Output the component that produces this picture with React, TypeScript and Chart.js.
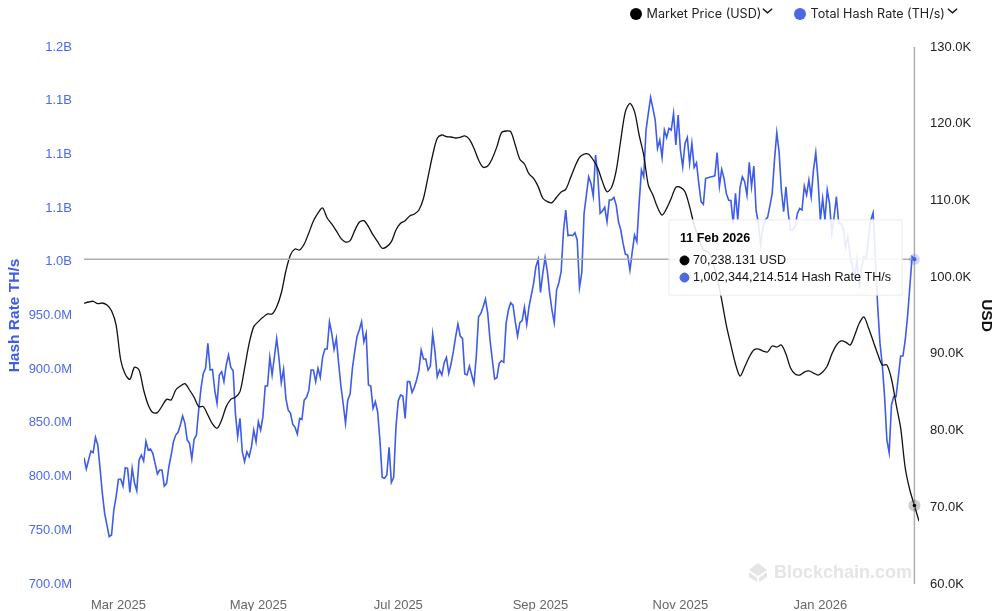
import React, { useEffect, useRef } from "react";
import { Chart, Tooltip, registerables } from "chart.js";

Chart.register(...registerables);

// days counted from 14 Feb 2025
const xTickDays = [15, 76, 137, 199, 260, 321];
const xTickLabels = ["Mar 2025", "May 2025", "Jul 2025", "Sep 2025", "Nov 2025", "Jan 2026"];
const hoverDay = 362;
const hoverDate = "11 Feb 2026";

// Total hash rate in millions of TH/s, one value per day
const hashRate = [
  817.6, 807.1, 815.4, 823.8, 822.3, 836.5, 829.4, 807.7, 784.4, 765.8,
  754.9, 744.1, 745.6, 768.9, 781.3, 797.4, 797.7, 791.2, 808.3, 807.7,
  785.3, 807.7, 794.3, 786.9, 815.4, 820.1, 814.5, 832.8, 824.7, 825.7,
  821.6, 812.3, 802.4, 806.1, 806.1, 791.2, 793.7, 809.2, 820.1, 832.5,
  838.7, 841.2, 848, 856.4, 849.6, 834, 831, 816.4, 834.7, 838.7,
  862, 882.2, 896.1, 900.8, 924, 899.2, 899.8, 880.6, 868.2, 894.6,
  897.7, 888.4, 903.9, 913.2, 901.7, 898.6, 858.9, 837.2, 854.2, 823.2,
  813.9, 823.2, 818.5, 827.9, 843.4, 832.5, 851.1, 843.4, 855.8, 884.3,
  884.3, 911, 894.6, 911.6, 928.7, 910.1, 887.4, 899.8, 872.8, 862,
  858.9, 848.9, 845.8, 839.6, 854.2, 853.3, 871.3, 873.8, 880, 899.2,
  899.2, 888.4, 900.8, 892.4, 911, 918.8, 918.8, 944.2, 933.4, 918.5,
  928.7, 905.4, 884.3, 867.6, 849.6, 871.3, 876.9, 900.8, 916.3, 930.2,
  936.5, 944.2, 925.6, 933.4, 885.3, 884.3, 863.5, 869.7, 860.4, 834,
  799.3, 798.4, 801.5, 827.2, 794.6, 799.3, 846.5, 870.7, 875.9, 875,
  854.2, 888.4, 888.4, 878.4, 883.1, 889.9, 899.2, 917.8, 909.5, 909.5,
  899.2, 902.9, 932.7, 916.3, 893, 899.2, 894.6, 906, 911, 896.1,
  904.8, 916.3, 930.2, 942, 930.9, 928.7, 895.5, 894.6, 902.9, 894.6,
  886.8, 911.6, 948.9, 952, 958.2, 965.3, 952, 927.2, 908.6, 890.9,
  892.1, 905.4, 907.9, 906.4, 942.7, 955.1, 961.9, 959.7, 944.2, 930.9,
  943.3, 945.2, 957.6, 941.7, 958.2, 969, 979.9, 995.4, 1002.3, 971.5,
  989.2, 1003.8, 990.8, 970.6, 955.1, 943.3, 973.7, 980.5, 990.8, 1028,
  1048.2, 1024.3, 1024.9, 1024.3, 1027.1, 1020.3, 976.2, 989.8, 1045.1, 1062.1,
  1079.2, 1073, 1061.2, 1099.4, 1079.2, 1045.1, 1047.3, 1050.7, 1037.3, 1057.5,
  1057.5, 1060, 1052.8, 1037.3, 1029.6, 1017.1, 1007.2, 1006.3, 992.3, 1009.4,
  1024.9, 1018.7, 1054.4, 1085.4, 1079.2, 1122.7, 1138.2, 1153.1, 1142.8, 1132,
  1105.6, 1113.3, 1097.2, 1122.7, 1115.8, 1124.2, 1122.7, 1138.2, 1108.7, 1136.6,
  1104, 1088.5, 1110.2, 1115.8, 1091.6, 1110.2, 1087.9, 1092.2, 1073, 1056,
  1053.5, 1077.7, 1078.3, 1078.9, 1079.5, 1080.1, 1101.6, 1070.5, 1086, 1077.7,
  1063.7, 1057.5, 1056.9, 1035.8, 1063.7, 1038.9, 1069.3, 1079.2, 1074.6, 1062.1,
  1092.6, 1069.9, 1089.1, 1047.6, 1035.8, 1015.6, 1032.7, 1038.9, 1041.4, 1052,
  1063.7, 1094.7, 1120.2, 1102.5, 1066.8, 1046.6, 1069.9, 1045.1, 1029.6, 1029.6,
  1032.7, 1045.1, 1049.7, 1048.2, 1070.5, 1062.1, 1076.1, 1060.6, 1085.4, 1101.6,
  1076.1, 1038.9, 1059, 1038.9, 1066.8, 1054.4, 1026.5, 1042, 1060.6, 1035.8,
  1035.8, 1031.1, 1014, 1023.4, 1004.7, 995.4, 986.1, 1001.6, 975.3, 995.4,
  1004.7, 1003.2, 1023.4, 1038.9, 1045.7, 1001.6, 958.2, 924, 903.9, 874.5,
  834.1, 822.3, 866.7, 874.5, 874.5, 893, 912.3, 912.3, 927.2, 948.9,
  976.8, 1004.7, 1002.344214514,
];

// Market price in thousands of USD, one value every two days
const marketPrice = [
  96.59, 96.76, 96.85, 96.54, 96.63, 96.37, 95.63, 93.76, 89.2, 87.33,
  86.68, 88.25, 87.9, 85.29, 83.34, 82.34, 82.34, 83.2, 84.07, 83.99,
  85.29, 85.81, 86.12, 85.29, 84.34, 83.12, 83.12, 82.03, 80.86, 80.3,
  81.38, 83.12, 84.07, 84.34, 85.07, 88.12, 91.37, 93.55, 94.2, 94.76,
  95.2, 95.2, 96.15, 97.93, 100.8, 102.88, 103.67, 103.54, 104.32, 105.75,
  107.32, 108.36, 109.01, 107.71, 106.93, 106.02, 105.06, 104.58, 104.76, 106.06,
  107.15, 107.36, 106.58, 105.5, 104.63, 103.76, 103.98, 104.63, 106.15, 107.02,
  107.36, 107.97, 108.23, 108.75, 110.28, 113.1, 115.92, 118.1, 118.53, 118.31,
  118.27, 118.14, 118.23, 118.4, 117.97, 116.79, 115.27, 114.32, 114.49, 115.49,
  117.01, 118.83, 119.05, 118.97, 117.23, 115.36, 114.75, 113.45, 112.88, 111.8,
  110.28, 109.84, 109.71, 110.41, 111.1, 111.45, 112.88, 114.4, 115.62, 116.05,
  116.01, 115.27, 114.19, 112.45, 111.14, 111.71, 113.88, 117.88, 121.57, 122.66,
  121.57, 118.53, 115.92, 112.01, 110.71, 109.1, 108.1, 108.97, 110.28, 111.71,
  111.71, 111.14, 109.19, 106.8, 105.1, 103.54, 103.28, 101.97, 99.89, 97.02,
  93.76, 91.15, 88.68, 87.11, 88.29, 89.59, 90.5, 90.63, 90.37, 90.24,
  91.02, 90.89, 91.15, 89.98, 88.16, 87.37, 87.24, 87.63, 87.77, 87.5,
  87.24, 87.63, 88.42, 89.98, 91.15, 91.68, 91.54, 91.15, 92.46, 94.02,
  94.8, 93.37, 91.68, 89.98, 88.55, 88.55, 86.72, 83.46, 80.34, 75.12,
  72.25, 70.238131, 68.21,
];

const BLUE = "#3f5ce8";
const BLUE_TEXT = "#4d68ee";
const DOT_BLUE = "#4a69e2";
const FONT = "'Liberation Sans', sans-serif";

// tooltip box sits at a fixed spot beside the hovered day
(Tooltip.positioners as any).besideHover = function () {
  return { x: 669, y: 257.5 };
};

const hoverMarks = {
  id: "hoverMarks",
  beforeDatasetsDraw(chart: any) {
    const ctx = chart.ctx;
    const { bottom } = chart.chartArea;
    // watermark
    ctx.save();
    ctx.fillStyle = "#e5e5e5";
    ctx.font = "bold 18px " + FONT;
    ctx.textBaseline = "middle";
    ctx.fillText("Blockchain.com", 774, bottom - 11);
    ctx.beginPath();
    ctx.moveTo(758, 563);
    ctx.lineTo(767, 570);
    ctx.lineTo(758, 576);
    ctx.lineTo(749, 570);
    ctx.closePath();
    ctx.fill();
    ctx.beginPath();
    ctx.moveTo(749, 572);
    ctx.lineTo(757, 578);
    ctx.lineTo(757, 582);
    ctx.lineTo(749, 577);
    ctx.closePath();
    ctx.moveTo(767, 572);
    ctx.lineTo(759, 578);
    ctx.lineTo(759, 582);
    ctx.lineTo(767, 577);
    ctx.closePath();
    ctx.fill();
    ctx.restore();
  },
  afterDatasetsDraw(chart: any) {
    const ctx = chart.ctx;
    const x = chart.scales.x.getPixelForValue(hoverDay);
    const priceY = chart.scales.yPrice.getPixelForValue(marketPrice[hoverDay / 2]);
    const hashY = chart.scales.yHash.getPixelForValue(hashRate[hoverDay]);
    ctx.save();
    ctx.strokeStyle = "#aeaeae";
    ctx.lineWidth = 1.5;
    ctx.beginPath();
    ctx.moveTo(chart.chartArea.left, hashY);
    ctx.lineTo(x, hashY);
    ctx.moveTo(x, chart.chartArea.top);
    ctx.lineTo(x, chart.chartArea.bottom);
    ctx.stroke();
    ctx.fillStyle = "rgba(0,0,0,0.2)";
    ctx.beginPath();
    ctx.arc(x, priceY, 6, 0, Math.PI * 2);
    ctx.fill();
    ctx.fillStyle = "#000";
    ctx.beginPath();
    ctx.arc(x, priceY, 1.8, 0, Math.PI * 2);
    ctx.fill();
    ctx.fillStyle = "rgba(74,105,226,0.25)";
    ctx.beginPath();
    ctx.arc(x, hashY, 5.5, 0, Math.PI * 2);
    ctx.fill();
    ctx.fillStyle = BLUE;
    ctx.beginPath();
    ctx.arc(x, hashY, 2, 0, Math.PI * 2);
    ctx.fill();
    ctx.restore();
  },
};

const Chevron = () => (
  <svg width="11" height="6" viewBox="0 0 11 6" style={{ position: "absolute", top: 8 }}>
    <polyline points="0.8,0.8 5.5,4.8 10.2,0.8" fill="none" stroke="#111" strokeWidth="1.4" />
  </svg>
);

const LegendItem = ({ left, color, label, chevronLeft }: any) => (
  <>
    <div
      style={{
        position: "absolute",
        left,
        top: 8,
        width: 12,
        height: 12,
        borderRadius: "50%",
        background: color,
      }}
    />
    <div
      style={{
        position: "absolute",
        left: left + 16.5,
        top: 5,
        font: "12.6px Inter, sans-serif",
        lineHeight: "17px",
        color: "#222",
        whiteSpace: "nowrap",
      }}
    >
      {label}
    </div>
    <div style={{ position: "absolute", left: chevronLeft, top: 0 }}>
      <Chevron />
    </div>
  </>
);

const App = () => {
  const chartRef = useRef<HTMLCanvasElement | null>(null);

  useEffect(() => {
    if (!chartRef.current) return;
    const chart = new Chart(chartRef.current, {
      type: "line",
      data: {
        datasets: [
          {
            label: "USD",
            data: marketPrice.map((v, i) => ({ x: i * 2, y: v })),
            yAxisID: "yPrice",
            borderColor: "#111",
            borderWidth: 1.3,
            pointRadius: 0,
            pointHoverRadius: 0,
            tension: 0.3,
          },
          {
            label: "Hash Rate TH/s",
            data: hashRate.map((v, i) => ({ x: i, y: v })),
            yAxisID: "yHash",
            borderColor: BLUE,
            borderWidth: 1.6,
            pointRadius: 0,
            pointHoverRadius: 0,
          },
        ],
      },
      options: {
        responsive: false,
        animation: false,
        events: [],
        layout: { padding: { top: 47 } },
        scales: {
          x: {
            type: "linear",
            min: 0,
            max: 364,
            grid: { display: false },
            border: { display: false },
            afterBuildTicks: (axis: any) => {
              axis.ticks = xTickDays.map((value) => ({ value }));
            },
            afterFit: (axis: any) => {
              axis.height = 27;
            },
            ticks: {
              autoSkip: false,
              maxRotation: 0,
              padding: 6,
              color: "#666",
              font: { family: FONT, size: 13 },
              callback: (_v: any, i: number) => xTickLabels[i],
            },
          },
          yHash: {
            position: "left",
            min: 700,
            max: 1200,
            grid: { display: false, drawTicks: false },
            border: { display: false },
            afterFit: (axis: any) => {
              axis.width = 84;
            },
            title: {
              display: true,
              text: "Hash Rate TH/s",
              color: "#3f5ce8",
              font: { family: FONT, size: 15.5, weight: "bold" },
              padding: { top: 5, bottom: 0 },
            },
            ticks: {
              stepSize: 50,
              padding: 12,
              color: BLUE_TEXT,
              font: { family: FONT, size: 13 },
              callback: (v: any) => (v >= 1000 ? (v / 1000).toFixed(1) + "B" : v.toFixed(1) + "M"),
            },
          },
          yPrice: {
            position: "right",
            min: 60,
            max: 130,
            grid: { display: false, drawTicks: false },
            border: { display: false },
            afterFit: (axis: any) => {
              axis.width = 81;
            },
            title: {
              display: true,
              text: "USD",
              color: "#111",
              font: { family: FONT, size: 15.5, weight: "bold" },
              padding: { top: 4, bottom: 0 },
            },
            ticks: {
              stepSize: 10,
              padding: 11,
              color: "#222",
              font: { family: FONT, size: 13 },
              callback: (v: any) => v.toFixed(1) + "K",
            },
          },
        },
        plugins: {
          legend: { display: false },
          tooltip: {
            position: "besideHover" as any,
            xAlign: "left",
            yAlign: "center",
            caretSize: 0,
            caretPadding: 0,
            cornerRadius: 0,
            backgroundColor: "rgba(255,255,255,0.88)",
            borderColor: "#ececec",
            borderWidth: 1,
            titleColor: "#000",
            bodyColor: "#111",
            titleFont: { family: FONT, size: 12.5, weight: "bold" },
            bodyFont: { family: FONT, size: 12.6 },
            titleMarginBottom: 7,
            bodySpacing: 2,
            padding: { left: 11, right: 11, top: 11, bottom: 10 },
            usePointStyle: true,
            boxWidth: 9,
            boxHeight: 9,
            boxPadding: 2,
            callbacks: {
              title: () => hoverDate,
              label: (item: any) =>
                item.datasetIndex === 0
                  ? (item.raw.y * 1e3).toLocaleString("en-US", { minimumFractionDigits: 3, maximumFractionDigits: 3 }) + " USD"
                  : (item.raw.y * 1e6).toLocaleString("en-US", { minimumFractionDigits: 3, maximumFractionDigits: 3 }) + " Hash Rate TH/s",
              labelColor: (item: any) => {
                const c = item.datasetIndex === 0 ? "#000" : DOT_BLUE;
                return { borderColor: c, backgroundColor: c };
              },
              labelPointStyle: () => ({ pointStyle: "circle", rotation: 0 }),
            },
          },
        },
      },
      plugins: [hoverMarks],
    } as any);

    const active = [
      { datasetIndex: 0, index: hoverDay / 2 },
      { datasetIndex: 1, index: hoverDay },
    ];
    chart.tooltip?.setActiveElements(active, { x: 0, y: 0 });
    chart.update();

    return () => {
      chart.destroy();
    };
  }, []);

  return (
    <div style={{ position: "absolute", left: 0, top: 0, width: 1000, height: 611, background: "#fff" }}>
      <canvas ref={chartRef} width={1000} height={611} style={{ display: "block" }} />
      <LegendItem left={630} color="#000" label="Market Price (USD)" chevronLeft={762} />
      <LegendItem left={794} color={DOT_BLUE} label="Total Hash Rate (TH/s)" chevronLeft={947} />
    </div>
  );
};

export default App;
